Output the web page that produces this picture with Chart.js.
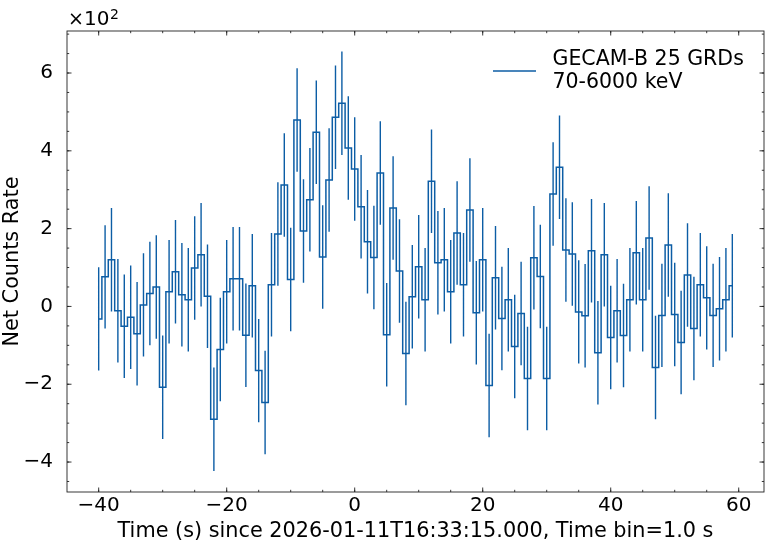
<!DOCTYPE html>
<html>
<head>
<meta charset="utf-8">
<script src="https://cdn.jsdelivr.net/npm/chart.js@4.4.1/dist/chart.umd.min.js"></script>
<style>
    html, body { margin: 0; padding: 0; background: #fff; }
    #wrap { width: 769px; height: 547px; }
</style>
</head>
<body>
<div id="wrap"><canvas id="lcChart" width="769" height="547"></canvas></div>
<script>
// bin centres (s) since trigger time
const timeBins = [
    -40, -39, -38, -37, -36, -35, -34, -33, -32, -31,
    -30, -29, -28, -27, -26, -25, -24, -23, -22, -21,
    -20, -19, -18, -17, -16, -15, -14, -13, -12, -11,
    -10, -9, -8, -7, -6, -5, -4, -3, -2, -1,
    0, 1, 2, 3, 4, 5, 6, 7, 8, 9,
    10, 11, 12, 13, 14, 15, 16, 17, 18, 19,
    20, 21, 22, 23, 24, 25, 26, 27, 28, 29,
    30, 31, 32, 33, 34, 35, 36, 37, 38, 39,
    40, 41, 42, 43, 44, 45, 46, 47, 48, 49,
    50, 51, 52, 53, 54, 55, 56, 57, 58, 59
];
// net counts rate, in units of 1e2 (as plotted)
const netRate = [
    -0.32, 0.76, 1.20, -0.11, -0.51, -0.28, -0.70, 0.04, 0.33, 0.50,
    -2.08, 0.38, 0.89, 0.30, 0.17, 0.99, 1.33, 0.26, -2.90, -1.11,
    0.38, 0.71, 0.71, -0.74, 0.53, -1.65, -2.47, 0.56, 1.86, 3.12,
    0.69, 4.79, 1.94, 2.74, 4.48, 1.27, 3.25, 4.86, 5.22, 4.07,
    3.53, 2.56, 1.66, 1.26, 3.43, -0.73, 2.53, 0.91, -1.21, 0.25,
    1.02, 0.17, 3.22, 1.12, 1.20, 0.38, 1.89, 0.56, 2.48, -0.16,
    1.20, -2.03, 0.74, -0.31, 0.17, -1.03, -0.18, -1.85, 1.25, 0.77,
    -1.85, 2.89, 3.58, 1.45, 1.35, -0.14, -0.24, 1.43, -1.19, 1.33,
    -0.80, -0.11, -0.75, 0.17, 1.38, 0.17, 1.76, -1.57, -0.23, 1.58,
    -0.21, -0.93, 0.81, -0.57, 0.56, 0.22, -0.23, -0.06, 0.17, 0.53
];
const rateErr = 1.33;
const xTickValues = [-40, -20, 0, 20, 40, 60];
const yTickValues = [-4, -2, 0, 2, 4, 6];
const legendLines = ['GECAM-B 25 GRDs', '70-6000 keV'];

const lineColor = '#0C5DA5';
const fontFamily = '"DejaVu Sans", sans-serif';

var stepPoints = timeBins.map(function (t, i) {
    return { x: t, y: netRate[i] };
});

// one vertical stroke per bin, broken by a null point
var errPoints = [];
timeBins.forEach(function (t, i) {
    errPoints.push({ x: t, y: netRate[i] - rateErr });
    errPoints.push({ x: t, y: netRate[i] + rateErr });
    errPoints.push({ x: t, y: null });
});

function fmtTick(v) {
    return v < 0 ? '\u2212' + Math.abs(v) : String(v);
}

// frame with inward ticks on all four sides (matplotlib look)
var frameTicks = {
    id: 'frameTicks',
    afterDraw: function (chart) {
        var ctx = chart.ctx, a = chart.chartArea;
        var xs = chart.scales.x, ys = chart.scales.y;
        ctx.save();
        ctx.strokeStyle = '#222';
        ctx.lineWidth = 0.9;
        ctx.strokeRect(a.left, a.top, a.right - a.left, a.bottom - a.top);

        function xTick(v, len) {
            var px = xs.getPixelForValue(v);
            if (px < a.left || px > a.right) return;
            ctx.beginPath();
            ctx.moveTo(px, a.bottom); ctx.lineTo(px, a.bottom - len);
            ctx.moveTo(px, a.top); ctx.lineTo(px, a.top + len);
            ctx.stroke();
        }
        function yTick(v, len) {
            var py = ys.getPixelForValue(v);
            if (py < a.top || py > a.bottom) return;
            ctx.beginPath();
            ctx.moveTo(a.left, py); ctx.lineTo(a.left + len, py);
            ctx.moveTo(a.right, py); ctx.lineTo(a.right - len, py);
            ctx.stroke();
        }
        for (var xv = -45; xv <= 65; xv += 5) xTick(xv, 2.2);
        xTickValues.forEach(function (v) { xTick(v, 4.5); });
        for (var yv = -4.5; yv <= 7; yv += 0.5) yTick(yv, 2.2);
        yTickValues.forEach(function (v) { yTick(v, 4.5); });

        // offset text
        ctx.fillStyle = '#000';
        ctx.textBaseline = 'alphabetic';
        ctx.textAlign = 'left';
        ctx.font = '19px ' + fontFamily;
        ctx.fillText('\u00d7', 68, 25);
        ctx.font = '20px ' + fontFamily;
        ctx.fillText('10', 84, 25);
        ctx.font = '14px ' + fontFamily;
        ctx.fillText('2', 110, 19);

        // legend
        ctx.strokeStyle = lineColor;
        ctx.lineWidth = 1.4;
        ctx.beginPath();
        ctx.moveTo(493, 71); ctx.lineTo(536, 71);
        ctx.stroke();
        ctx.font = '20.5px ' + fontFamily;
        ctx.fillText(legendLines[0], 552.5, 65);
        ctx.fillText(legendLines[1], 552.5, 88.3);
        ctx.restore();
    }
};

Chart.defaults.font.family = fontFamily;
Chart.defaults.color = '#000';

const ctx = document.getElementById('lcChart');
const lcChart = new Chart(ctx, {
    type: 'line',
    data: {
        datasets: [{
            label: legendLines.join(' '),
            data: stepPoints,
            stepped: 'middle',
            borderColor: lineColor,
            borderWidth: 1.5,
            pointRadius: 0,
            fill: false
        }, {
            label: 'errors',
            data: errPoints,
            borderColor: lineColor,
            borderWidth: 1.4,
            pointRadius: 0,
            spanGaps: false,
            fill: false
        }]
    },
    options: {
        responsive: false,
        animation: false,
        events: [],
        layout: {
            padding: { left: 0, right: 5, top: 31, bottom: 0 }
        },
        plugins: {
            legend: { display: false },
            tooltip: { enabled: false }
        },
        scales: {
            x: {
                type: 'linear',
                min: -44.95,
                max: 63.95,
                grid: { display: false },
                border: { display: false },
                afterBuildTicks: function (scale) {
                    scale.ticks = xTickValues.map(function (v) { return { value: v }; });
                },
                afterFit: function (scale) { scale.height = 55; },
                ticks: {
                    autoSkip: false,
                    maxRotation: 0,
                    padding: -6,
                    font: { size: 20 },
                    callback: function (v) { return fmtTick(v); }
                },
                title: {
                    display: true,
                    text: 'Time (s) since 2026-01-11T16:33:15.000, Time bin=1.0 s',
                    font: { size: 20.8 },
                    padding: { top: 0, bottom: 3 }
                }
            },
            y: {
                type: 'linear',
                min: -4.77,
                max: 7.08,
                grid: { display: false },
                border: { display: false },
                afterBuildTicks: function (scale) {
                    scale.ticks = yTickValues.map(function (v) { return { value: v }; });
                },
                afterFit: function (scale) { scale.width = 67; },
                ticks: {
                    autoSkip: false,
                    padding: 6,
                    font: { size: 20 },
                    callback: function (v) { return fmtTick(v); }
                },
                title: {
                    display: true,
                    text: 'Net Counts Rate',
                    font: { size: 20.8 },
                    padding: { top: 0, bottom: 0 }
                }
            }
        }
    },
    plugins: [frameTicks]
});
</script>
</body>
</html>
